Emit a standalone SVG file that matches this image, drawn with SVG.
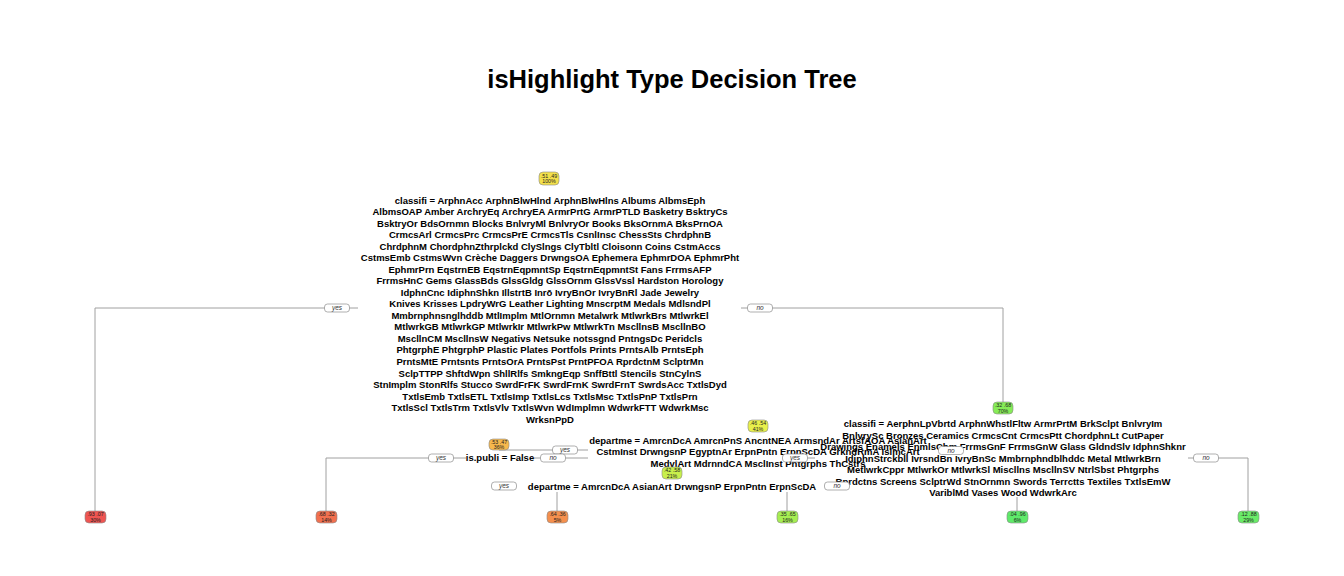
<svg xmlns="http://www.w3.org/2000/svg" width="1344" height="576" viewBox="0 0 1344 576">
<style>
.bg{fill:#ffffff}
.title{font-family:"Liberation Sans",Arial,sans-serif;font-weight:bold;font-size:25.5px;fill:#000;text-anchor:middle}
.lbl{font-family:"Liberation Sans",Arial,sans-serif;font-weight:bold;font-size:9.5px;fill:#000;text-anchor:middle}
.conn path{fill:none;stroke:#a0a0a0;stroke-width:1}
.yn rect{fill:#fff;stroke:#8c8c8c;stroke-width:0.7}
.yn text{font-family:"Liberation Sans",Arial,sans-serif;font-style:italic;font-size:6.5px;fill:#333;text-anchor:middle}
.nd rect{stroke:#8a8a8a;stroke-width:0.6}
.nd text{font-family:"Liberation Sans",Arial,sans-serif;font-size:5.3px;fill:#222;text-anchor:middle}
</style>
<rect class="bg" x="0" y="0" width="1344" height="576"/>
<text class="title" x="672" y="88">isHighlight Type Decision Tree</text>

<g id="connectors" class="conn">
<path d="M95,511 V308 H358"/>
<path d="M741,308 H1003 V402"/>
<path d="M326,511 V458 H466"/>
<path d="M534,458 H588"/>
<path d="M499,450 H588"/>
<path d="M1017,497 V511"/>
<path d="M1188,458 H1248 V511"/>
<path d="M786,458 H815"/>
<path d="M557,492 V511"/>
<path d="M787,492 V511"/>
</g>

<g id="split-root">
<text class="lbl" x="550" y="203.5">classifi = ArphnAcc ArphnBlwHlnd ArphnBlwHlns Albums AlbmsEph</text>
<text class="lbl" x="550" y="215">AlbmsOAP Amber ArchryEq ArchryEA ArmrPrtG ArmrPTLD Basketry BsktryCs</text>
<text class="lbl" x="550" y="226.6">BsktryOr BdsOrnmn Blocks BnlvryMl BnlvryOr Books BksOrnmA BksPrnOA</text>
<text class="lbl" x="550" y="238.1">CrmcsArl CrmcsPrc CrmcsPrE CrmcsTls CsnlInsc ChessSts ChrdphnB</text>
<text class="lbl" x="550" y="249.6">ChrdphnM ChordphnZthrplckd ClySlngs ClyTbltl Cloisonn Coins CstmAccs</text>
<text class="lbl" x="550" y="261.2">CstmsEmb CstmsWvn Crèche Daggers DrwngsOA Ephemera EphmrDOA EphmrPht</text>
<text class="lbl" x="550" y="272.7">EphmrPrn EqstrnEB EqstrnEqpmntSp EqstrnEqpmntSt Fans FrrmsAFP</text>
<text class="lbl" x="550" y="284.2">FrrmsHnC Gems GlassBds GlssGldg GlssOrnm GlssVssl Hardston Horology</text>
<text class="lbl" x="550" y="295.8">IdphnCnc IdiphnShkn IllstrtB Inrō IvryBnOr IvryBnRl Jade Jewelry</text>
<text class="lbl" x="550" y="307.3">Knives Krisses LpdryWrG Leather Lighting MnscrptM Medals MdlsndPl</text>
<text class="lbl" x="550" y="318.8">Mmbrnphnsnglhddb MtlImplm MtlOrnmn Metalwrk MtlwrkBrs MtlwrkEl</text>
<text class="lbl" x="550" y="330.4">MtlwrkGB MtlwrkGP MtlwrkIr MtlwrkPw MtlwrkTn MscllnsB MscllnBO</text>
<text class="lbl" x="550" y="341.9">MscllnCM MscllnsW Negativs Netsuke notssgnd PntngsDc Peridcls</text>
<text class="lbl" x="550" y="353.4">PhtgrphE PhtgrphP Plastic Plates Portfols Prints PrntsAlb PrntsEph</text>
<text class="lbl" x="550" y="365">PrntsMtE Prntsnts PrntsOrA PrntsPst PrntPFOA RprdctnM SclptrMn</text>
<text class="lbl" x="550" y="376.5">SclpTTPP ShftdWpn ShllRlfs SmkngEqp SnffBttl Stencils StnCylnS</text>
<text class="lbl" x="550" y="388">StnImplm StonRlfs Stucco SwrdFrFK SwrdFrnK SwrdFrnT SwrdsAcc TxtlsDyd</text>
<text class="lbl" x="550" y="399.6">TxtlsEmb TxtlsETL TxtlsImp TxtlsLcs TxtlsMsc TxtlsPnP TxtlsPrn</text>
<text class="lbl" x="550" y="411.1">TxtlsScl TxtlsTrm TxtlsVlv TxtlsWvn WdImplmn WdwrkFTT WdwrkMsc</text>
<text class="lbl" x="550" y="422.6">WrksnPpD</text>
</g>

<g id="split-n3">
<text class="lbl" x="1003" y="427">classifi = AerphnLpVbrtd ArphnWhstlFltw ArmrPrtM BrkSclpt BnlvryIm</text>
<text class="lbl" x="1003" y="438.5">BnlvrySc Bronzes Ceramics CrmcsCnt CrmcsPtt ChordphnLt CutPaper</text>
<text class="lbl" x="1003" y="450">Drawings Enamels EnmlsChm FrrmsGnF FrrmsGnW Glass GldndSlv IdphnShknr</text>
<text class="lbl" x="1003" y="461.5">IdiphnStrckbll IvrsndBn IvryBnSc Mmbrnphndblhddc Metal MtlwrkBrn</text>
<text class="lbl" x="1003" y="473">MetlwrkCppr MtlwrkOr MtlwrkSl Miscllns MscllnSV NtrlSbst Phtgrphs</text>
<text class="lbl" x="1003" y="484.5">Rprdctns Screens SclptrWd StnOrnmn Swords Terrctts Textiles TxtlsEmW</text>
<text class="lbl" x="1003" y="496">VariblMd Vases Wood WdwrkArc</text>
</g>

<g id="split-n6">
<text class="lbl" x="758" y="443.5">departme = AmrcnDcA AmrcnPnS AncntNEA ArmsndAr ArtsfAOA AsianArt</text>
<text class="lbl" x="758" y="455">CstmInst DrwngsnP EgyptnAr ErpnPntn ErpnScDA GrkndRmA IslmcArt</text>
<text class="lbl" x="758" y="466.5">MedvlArt MdrnndCA MsclInst Phtgrphs ThCstrs</text>
</g>

<g id="split-n12">
<text class="lbl" x="500" y="461">is.publi = False</text>
</g>

<g id="split-n25">
<text class="lbl" x="672" y="489.5">departme = AmrcnDcA AsianArt DrwngsnP ErpnPntn ErpnScDA</text>
</g>

<g id="yesno" class="yn">
<rect x="324.5" y="304" width="25" height="8" rx="3"/><text x="337" y="310.3">yes</text>
<rect x="747.5" y="304" width="25" height="8" rx="3"/><text x="760" y="310.3">no</text>
<rect x="782.5" y="454" width="25" height="8" rx="3"/><text x="795" y="460.3">yes</text>
<rect x="1193.5" y="454" width="25" height="8" rx="3"/><text x="1206" y="460.3">no</text>
<rect x="552.5" y="446" width="25" height="8" rx="3"/><text x="565" y="452.3">yes</text>
<rect x="938.5" y="446.5" width="25" height="8" rx="3"/><text x="951" y="452.8">no</text>
<rect x="428.5" y="454" width="25" height="8" rx="3"/><text x="441" y="460.3">yes</text>
<rect x="540.5" y="454" width="25" height="8" rx="3"/><text x="553" y="460.3">no</text>
<rect x="491.5" y="482" width="25" height="8" rx="3"/><text x="504" y="488.3">yes</text>
<rect x="824.5" y="482" width="25" height="8" rx="3"/><text x="837" y="488.3">no</text>
</g>

<g id="node-root" class="nd">
<rect x="539" y="172" width="20" height="13" rx="4" fill="#F3E04B"/>
<text x="549" y="177.5">.51 .49</text><text x="549" y="183">100%</text>
</g>
<g id="node-leaf2" class="nd">
<rect x="85" y="511" width="21" height="12" rx="4" fill="#EF5552"/>
<text x="95.5" y="516">.93 .07</text><text x="95.5" y="521.5">30%</text>
</g>
<g id="node-n3" class="nd">
<rect x="993" y="402" width="20" height="12" rx="4" fill="#86EC57"/>
<text x="1003" y="407">.32 .68</text><text x="1003" y="412.5">70%</text>
</g>
<g id="node-n6" class="nd">
<rect x="748" y="420" width="20" height="12" rx="4" fill="#E8F04B"/>
<text x="758" y="425">.46 .54</text><text x="758" y="430.5">41%</text>
</g>
<g id="node-n12" class="nd">
<rect x="489" y="439" width="20" height="11" rx="4" fill="#F7B84C"/>
<text x="499" y="443.5">.53 .47</text><text x="499" y="448.8">36%</text>
</g>
<g id="node-leaf24" class="nd">
<rect x="316" y="511" width="21" height="12" rx="4" fill="#F2704F"/>
<text x="326.5" y="516">.68 .32</text><text x="326.5" y="521.5">14%</text>
</g>
<g id="node-n25" class="nd">
<rect x="662" y="467" width="20" height="12" rx="4" fill="#C8EF4C"/>
<text x="672" y="472">.42 .58</text><text x="672" y="477.5">21%</text>
</g>
<g id="node-leaf50" class="nd">
<rect x="547" y="511" width="21" height="12" rx="4" fill="#F5904E"/>
<text x="557.5" y="516">.64 .36</text><text x="557.5" y="521.5">5%</text>
</g>
<g id="node-leaf51" class="nd">
<rect x="777" y="511" width="21" height="12" rx="4" fill="#A6EE52"/>
<text x="787.5" y="516">.35 .65</text><text x="787.5" y="521.5">16%</text>
</g>
<g id="node-leaf13" class="nd">
<rect x="1007" y="511" width="21" height="12" rx="4" fill="#5FEA6A"/>
<text x="1017.5" y="516">.04 .96</text><text x="1017.5" y="521.5">6%</text>
</g>
<g id="node-leaf7" class="nd">
<rect x="1238" y="511" width="21" height="12" rx="4" fill="#6AEB68"/>
<text x="1248.5" y="516">.12 .88</text><text x="1248.5" y="521.5">29%</text>
</g>
</svg>
